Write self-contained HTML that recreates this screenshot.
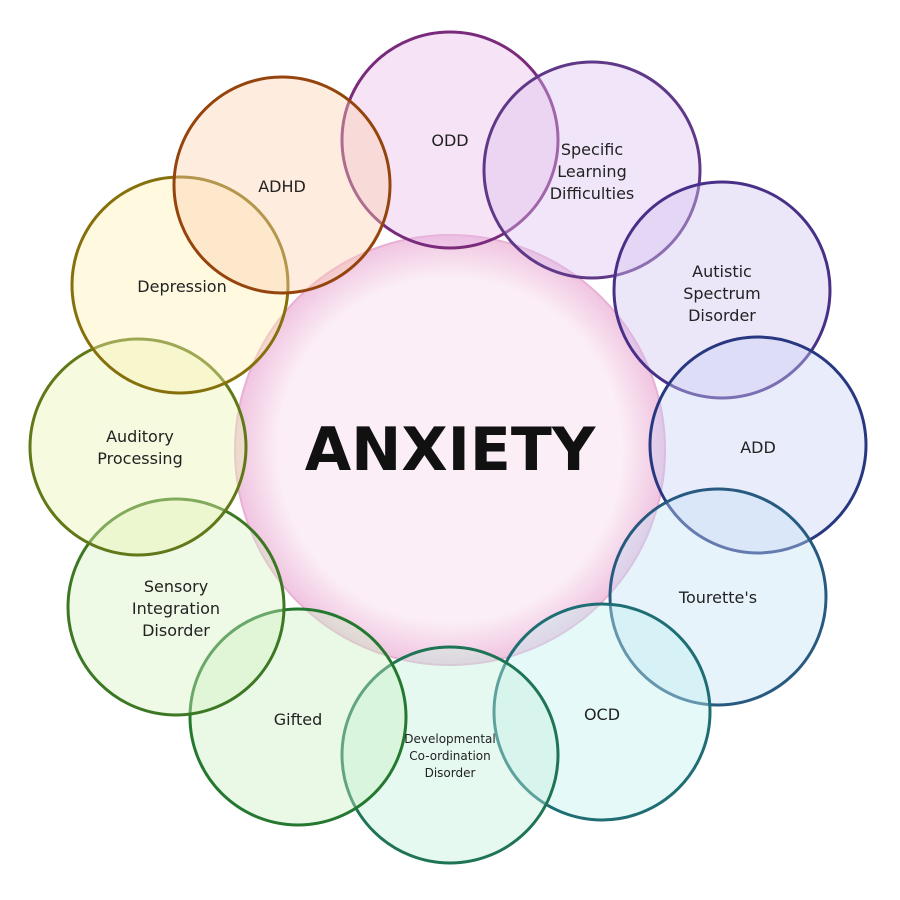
<!DOCTYPE html>
<html><head><style>body{margin:0;background:#fff}svg{display:block}</style></head><body>
<svg width="900" height="900" viewBox="0 0 900 900" xmlns="http://www.w3.org/2000/svg" font-family="DejaVu Sans, Liberation Sans, sans-serif">
<defs>
<radialGradient id="gc" cx="50%" cy="50%" r="50%"><stop offset="0.8" stop-color="#fbeef6"/><stop offset="1" stop-color="#f0c4e0"/></radialGradient>
</defs>
<circle cx="450" cy="450" r="215" fill="url(#gc)" stroke="#e8b0d4" stroke-width="2"/>
<g stroke-width="3" fill-opacity="0.4">
<circle cx="450" cy="140" r="108" fill="#e8b8e8" stroke="#7a2a7a"/>
<circle cx="592" cy="170" r="108" fill="#dcc0f0" stroke="#603888"/>
<circle cx="722" cy="290" r="108" fill="#cfc0f0" stroke="#483088"/>
<circle cx="758" cy="445" r="108" fill="#c8d0f4" stroke="#283880"/>
<circle cx="718" cy="597" r="108" fill="#c0e0f4" stroke="#285a80"/>
<circle cx="602" cy="712" r="108" fill="#c0f0f0" stroke="#1e6e74"/>
<circle cx="450" cy="755" r="108" fill="#c0f0dc" stroke="#1e7454"/>
<circle cx="298" cy="717" r="108" fill="#c8f0c0" stroke="#247830"/>
<circle cx="176" cy="607" r="108" fill="#d4f0c0" stroke="#3c7824"/>
<circle cx="138" cy="447" r="108" fill="#e8f4b0" stroke="#607818"/>
<circle cx="180" cy="285" r="108" fill="#fcf0b0" stroke="#86700c"/>
<circle cx="282" cy="185" r="108" fill="#fcd0b0" stroke="#94440c"/>
</g>
<g font-size="16" fill="#222" text-anchor="middle">
<text x="450" y="146">ODD</text>
<text x="592" y="155">Specific</text><text x="592" y="177">Learning</text><text x="592" y="199">Difficulties</text>
<text x="722" y="277">Autistic</text><text x="722" y="299">Spectrum</text><text x="722" y="321">Disorder</text>
<text x="758" y="453">ADD</text>
<text x="718" y="603">Tourette's</text>
<text x="602" y="720">OCD</text>
<text x="450" y="743" font-size="12">Developmental</text><text x="450" y="760" font-size="12">Co-ordination</text><text x="450" y="777" font-size="12">Disorder</text>
<text x="298" y="725">Gifted</text>
<text x="176" y="592">Sensory</text><text x="176" y="614">Integration</text><text x="176" y="636">Disorder</text>
<text x="140" y="442">Auditory</text><text x="140" y="464">Processing</text>
<text x="182" y="292">Depression</text>
<text x="282" y="192">ADHD</text>
</g>
<text x="450" y="470" font-size="60" font-weight="bold" text-anchor="middle" fill="#111">ANXIETY</text>
</svg>
</body></html>
